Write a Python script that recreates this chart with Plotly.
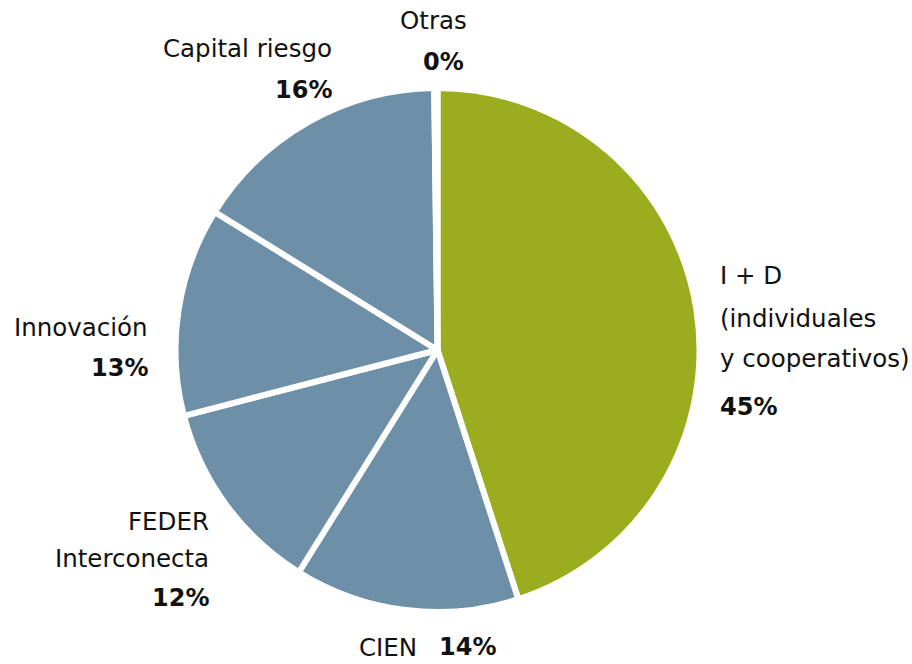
import plotly.graph_objects as go

categories = ["I + D (individuales y cooperativos)", "CIEN", "FEDER Interconecta",
              "Innovación", "Capital riesgo", "Otras"]
values = [45.1, 13.9, 12.1, 12.9, 16.0, 0.2]
colors = ["#9BAD1F", "#6E8FA8", "#6E8FA8", "#6E8FA8", "#6E8FA8", "#6E8FA8"]

W, H = 912, 664
total = sum(values)
pct = [f"{round(v / total * 100)}%" for v in values]

def fx(px):
    return px / W

def fy(py):
    return 1 - py / H

cx, cy, r = 437.5, 350, 262
fig = go.Figure(go.Pie(
    labels=categories, values=values, sort=False, direction="clockwise", rotation=0,
    marker=dict(colors=colors, line=dict(color="white", width=6)),
    textinfo="none", hoverinfo="label+percent", showlegend=False,
    domain=dict(x=[fx(cx - r), fx(cx + r)], y=[fy(cy + r), fy(cy - r)]),
))

FONT = "DejaVu Sans"

def ann(text, px, py, xanchor, bold=False):
    fig.add_annotation(
        x=fx(px), y=fy(py), xref="paper", yref="paper",
        text=f"<b>{text}</b>" if bold else text, showarrow=False,
        xanchor=xanchor, yanchor="middle",
        font=dict(family=FONT, size=24 if bold else 24.5, color="#111111"),
    )

# Otras
ann("Otras", 433, 21, "center")
ann(pct[5], 443, 62, "center", True)
# Capital riesgo
ann("Capital riesgo", 334, 48, "right")
ann(pct[4], 334, 90, "right", True)
# Innovación
ann("Innovación", 150, 327, "right")
ann(pct[3], 150, 368, "right", True)
# FEDER Interconecta
ann("FEDER", 211, 521, "right")
ann("Interconecta", 211, 558, "right")
ann(pct[2], 211, 598, "right", True)
# CIEN
ann("CIEN", 357, 647, "left")
ann(pct[1], 437, 647, "left", True)
# I + D
ann("I + D", 718, 275, "left")
ann("(individuales", 718, 318, "left")
ann("y cooperativos)", 718, 359, "left")
ann(pct[0], 718, 407, "left", True)

fig.update_layout(
    width=W, height=H, margin=dict(l=0, r=0, t=0, b=0),
    paper_bgcolor="white", plot_bgcolor="white",
)
fig.write_html("out.html", config={"displayModeBar": False},
               post_script="document.body.style.margin='0';document.body.style.overflow='hidden';")
